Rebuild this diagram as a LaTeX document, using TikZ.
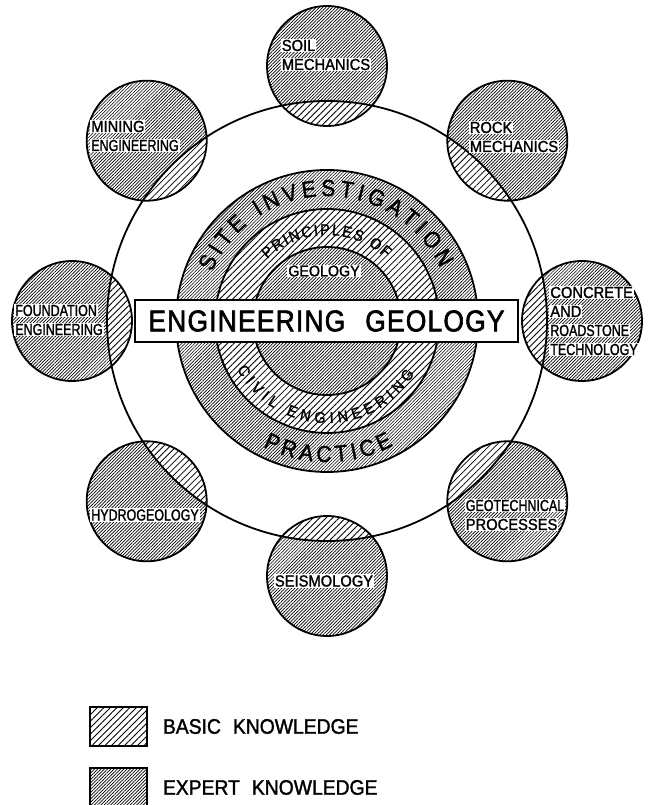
\documentclass[tikz,border=0pt]{standalone}
\usepackage{fontspec}
\setmainfont{Liberation Sans}
\newfontfamily\diagfont[FakeStretch=0.92,FakeBold=1.5]{Liberation Sans}
\newfontfamily\narrowfont[FakeStretch=0.78,FakeBold=1.5]{Liberation Sans}
\newfontfamily\titlefont[FakeStretch=0.88,FakeBold=2,LetterSpace=4]{Liberation Sans}
\usetikzlibrary{positioning,patterns.meta,decorations.text}

\newcommand{\satfont}{\diagfont\fontsize{16}{19}\selectfont}
\newcommand{\ringfont}{\diagfont\fontsize{23}{24}\selectfont}
\newcommand{\bandfont}{\diagfont\fontsize{15.5}{16}\selectfont}
\newcommand{\keyfont}{\diagfont\fontsize{21}{22}\selectfont}
\newcommand{\knock}[1]{\colorbox{white}{#1}}
\setlength{\fboxsep}{1pt}

\tikzset{
    expert/.style={preaction={fill=white},
        pattern={Lines[angle=45,distance=2.3pt,line width=0.65pt]}},
    basic/.style={preaction={fill=white},
        pattern={Lines[angle=45,distance=4.6pt,line width=0.85pt]}},
    outline/.style={line width=1.8pt},
    satlabel/.style={font=\satfont, align=left, inner sep=0pt},
    curved/.style={decorate,
        decoration={text along path, text align=fit to path, text={#1}}},
    keybox/.style={draw, line width=1.5pt, minimum width=57pt,
        minimum height=39pt, inner sep=0pt},
    keytext/.style={font=\keyfont, inner sep=0pt}
}

\begin{document}
\begin{tikzpicture}[x=1pt,y=1pt]
\useasboundingbox (0,0) rectangle (652,805);
\fill[white] (0,0) rectangle (652,805);

\begin{scope}[shift={(327,484)}]

% Satelites: fuera del anillo, conocimiento experto
\foreach \a in {0,45,...,315}
    \path[expert] (\a:255) circle[radius=60];

% la parte dentro del anillo grande es conocimiento basico
\begin{scope}
    \clip (0,0) circle[radius=220];
    \foreach \a in {0,45,...,315}
        \path[basic] (\a:255) circle[radius=60];
\end{scope}

\draw[outline] (0,0) circle[radius=220];
\foreach \a in {0,45,...,315}
    \draw[outline] (\a:255) circle[radius=60];

% Nucleo
\path[expert] (0,0) circle[radius=151];
\path[basic] (0,0) circle[radius=112];
\path[expert] (0,0) circle[radius=74];
\foreach \r in {151,112,74}
    \draw[outline] (0,0) circle[radius=\r];

% Textos curvos
\path[curved={|\ringfont|SITE INVESTIGATION}]
    (157:125) arc[start angle=157, end angle=25, radius=125];
\path[curved={|\bandfont|PRINCIPLES OF}]
    (134:86) arc[start angle=134, end angle=47, radius=86];
\path[curved={|\bandfont|CIVIL ENGINEERING}]
    (208:102) arc[start angle=208, end angle=329, radius=102];
\path[curved={|\ringfont|PRACTICE}]
    (243:141) arc[start angle=243, end angle=298, radius=141];

\node[font=\bandfont, fill=white, inner sep=1pt] (geology)
    at (-3,50) {GEOLOGY};

\node[draw, outline, fill=white, minimum width=383pt, minimum height=42pt,
      inner sep=0pt, font=\titlefont\fontsize{30}{30}\selectfont] (title)
    at (-0.5,0) {ENGINEERING\hspace{20pt}GEOLOGY};

% Etiquetas de los satelites
\node[satlabel] (soil) at (-1,266)
    {\knock{SOIL}\\\knock{MECHANICS}};
\node[satlabel] (rock) at (187,184)
    {\knock{ROCK}\\\knock{MECHANICS}};
\node[satlabel] (concrete) at (267,0)
    {\knock{CONCRETE}\\\knock{AND}\\\knock{\narrowfont ROADSTONE}\\\knock{\narrowfont TECHNOLOGY}};
\node[satlabel] (geotech) at (188,-194)
    {\knock{\narrowfont GEOTECHNICAL}\\\knock{PROCESSES}};
\node[satlabel] (seismo) at (-3,-260)
    {\knock{SEISMOLOGY}};
\node[satlabel] (hydro) at (-182,-194)
    {\knock{\narrowfont HYDROGEOLOGY}};
\node[satlabel] (foundation) at (-268,1)
    {\knock{\narrowfont FOUNDATION}\\\knock{\narrowfont ENGINEERING}};
\node[satlabel] (mining) at (-192,185)
    {\knock{MINING}\\\knock{\narrowfont ENGINEERING}};

\end{scope}

% Leyenda
\node[keybox, basic] (basickey) at (118.5,78.5) {};
\node[keytext, right=15pt of basickey] (basictext)
    {BASIC\hspace{12pt}KNOWLEDGE};

\node[keybox, expert] (expertkey) at (118.5,17.5) {};
\node[keytext, right=15pt of expertkey] (experttext)
    {EXPERT\hspace{12pt}KNOWLEDGE};

\end{tikzpicture}
\end{document}
